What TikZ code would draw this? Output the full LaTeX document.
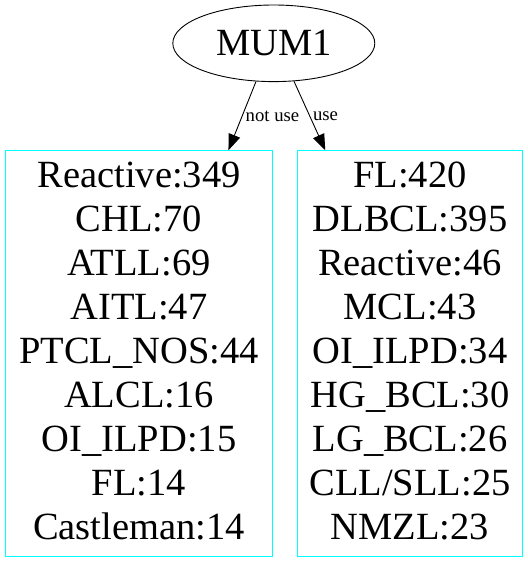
\documentclass[tikz,border=0pt]{standalone}
\usepackage{fontspec}
\setmainfont{Liberation Serif}
\usepackage{tikz}
\usetikzlibrary{positioning,arrows.meta,shapes.geometric}
\definecolor{BoxCyan}{HTML}{00FFFF}

\begin{document}
\begin{tikzpicture}[x=1pt, y=-1pt,
        root/.style={ellipse, draw=black, line width=0.9pt, minimum width=202pt, minimum height=76.6pt, inner sep=0pt, font=\fontsize{38.5}{43.9}\selectfont},
        block/.style={rectangle, draw=BoxCyan, line width=0.9pt, align=center, inner sep=0pt, text depth=6pt, minimum height=406pt, font=\fontsize{38.5}{43.9}\selectfont},
        arrow/.style={-{Triangle[length=16pt, width=12pt]}, line width=0.9pt},
        elabel/.style={right, inner sep=3pt, font=\fontsize{18.7}{22}\selectfont}]

        \useasboundingbox (0,0) rectangle (528,563);

        \node[root] (mum) at (273.8,43.3) {MUM1};

        \node[block, minimum width=267.4pt] (notuse) at (139,353.7) {Reactive:349\\CHL:70\\ATLL:69\\AITL:47\\PTCL\_NOS:44\\ALCL:16\\OI\_ILPD:15\\FL:14\\Castleman:14};
        \node[block, minimum width=225.4pt] (use) at (410,353.7) {FL:420\\DLBCL:395\\Reactive:46\\MCL:43\\OI\_ILPD:34\\HG\_BCL:30\\LG\_BCL:26\\CLL/SLL:25\\NMZL:23};

        \draw[arrow] (mum.245.6) -- node[elabel]{not use} ([xshift=-44.7pt]notuse.north east);
        \draw[arrow] (mum.298.3) -- node[elabel]{use} ([xshift=28.4pt]use.north west);
    \end{tikzpicture}
\end{document}
